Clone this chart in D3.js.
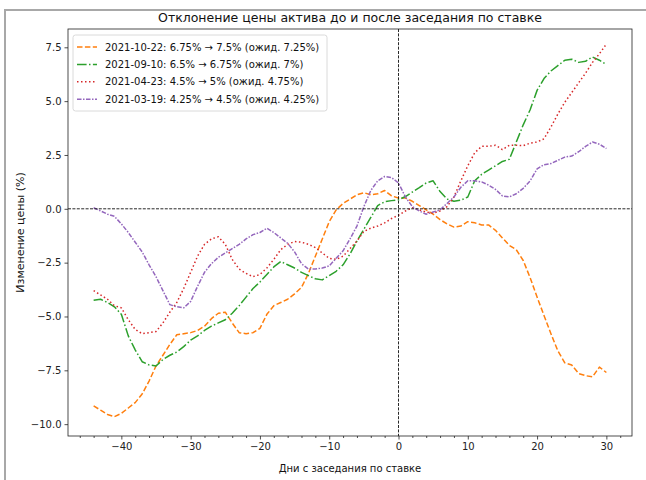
<!DOCTYPE html>
<html>
<head>
<meta charset="utf-8">
<script src="https://cdn.jsdelivr.net/npm/d3@7/dist/d3.min.js"></script>
<style>
  html, body { margin: 0; padding: 0; background: #fff; }
  svg { display: block; font-family: "DejaVu Sans", sans-serif; }
</style>
</head>
<body>
<svg id="chart" width="646" height="480"></svg>
<script>
// Days relative to the rate meeting
const days = d3.range(-44, 31);

// Price deviation (%) around each meeting
const oct22 = [-9.15, -9.35, -9.55, -9.65, -9.5, -9.25, -9.0, -8.6, -8.0, -7.3,
  -6.8, -6.3, -5.85, -5.8, -5.75, -5.65, -5.45, -5.1, -4.85, -4.8,
  -5.3, -5.75, -5.8, -5.75, -5.55, -4.9, -4.5, -4.35, -4.2, -3.95,
  -3.65, -3.0, -2.2, -1.4, -0.6, -0.05, 0.25, 0.45, 0.65, 0.75,
  0.65, 0.7, 0.85, 0.6, 0.5, 0.5, 0.35, 0.15, -0.05, -0.25,
  -0.5, -0.7, -0.85, -0.8, -0.6, -0.65, -0.75, -0.75, -1.0, -1.35,
  -1.7, -1.9, -2.4, -3.2, -4.1, -4.95, -5.8, -6.6, -7.15, -7.25,
  -7.65, -7.75, -7.8, -7.35, -7.6];
const sep10 = [-4.25, -4.2, -4.35, -4.55, -4.9, -5.9, -6.55, -7.1, -7.25, -7.3,
  -7.0, -6.8, -6.65, -6.4, -6.1, -5.9, -5.65, -5.45, -5.3, -5.15,
  -4.85, -4.5, -4.1, -3.7, -3.4, -3.05, -2.7, -2.45, -2.6, -2.75,
  -2.95, -3.1, -3.25, -3.3, -3.1, -2.9, -2.6, -2.1, -1.5, -0.95,
  -0.4, 0.15, 0.33, 0.38, 0.42, 0.57, 0.78, 0.98, 1.2, 1.3,
  0.8, 0.45, 0.35, 0.4, 0.55, 1.3, 1.6, 1.8, 2.0, 2.2,
  2.3, 3.1, 3.9, 4.6, 5.5, 6.05, 6.4, 6.65, 6.9, 6.95,
  6.8, 6.85, 7.05, 6.9, 6.7];
const apr23 = [-3.8, -4.0, -4.2, -4.5, -4.6, -5.15, -5.6, -5.8, -5.75, -5.7,
  -5.3, -4.8, -4.35, -3.7, -2.95, -2.2, -1.65, -1.4, -1.3, -1.65,
  -2.35, -2.8, -3.0, -3.15, -3.05, -2.75, -2.35, -1.9, -1.65, -1.52,
  -1.55, -1.65, -1.8, -2.05, -2.3, -2.35, -2.2, -1.85, -1.5, -1.05,
  -0.9, -0.8, -0.65, -0.45, -0.3, -0.1, 0.05, -0.05, -0.15, -0.2,
  -0.1, 0.1, 0.55, 1.3, 2.0, 2.6, 2.9, 2.9, 2.95, 2.75,
  2.95, 2.95, 2.93, 3.05, 3.1, 3.25, 3.8, 4.4, 4.95, 5.4,
  5.85, 6.3, 6.8, 7.2, 7.65];
const mar19 = [0.05, -0.1, -0.25, -0.35, -0.7, -1.1, -1.55, -2.0, -2.6, -3.15,
  -3.8, -4.45, -4.55, -4.6, -4.3, -3.6, -2.95, -2.55, -2.25, -2.05,
  -1.85, -1.65, -1.4, -1.2, -1.1, -0.9, -1.1, -1.35, -1.6, -2.0,
  -2.55, -2.8, -2.8, -2.75, -2.65, -2.3, -1.95, -1.4, -0.8, 0.1,
  0.85, 1.3, 1.5, 1.45, 1.2, 0.55, 0.1, -0.1, -0.25, -0.15,
  -0.05, 0.25, 0.55, 1.0, 1.3, 1.3, 1.25, 1.1, 0.9, 0.6,
  0.55, 0.7, 0.95, 1.3, 1.85, 2.05, 2.1, 2.25, 2.4, 2.45,
  2.65, 2.9, 3.1, 3.0, 2.8];

const seriesLabels = [
  "2021-10-22: 6.75% \u2192 7.5% (ожид. 7.25%)",
  "2021-09-10: 6.5% \u2192 6.75% (ожид. 7%)",
  "2021-04-23: 4.5% \u2192 5% (ожид. 4.75%)",
  "2021-03-19: 4.25% \u2192 4.5% (ожид. 4.25%)"
];
const seriesValues = [oct22, sep10, apr23, mar19];
const seriesColors = ["#ff7f0e", "#2ca02c", "#d62728", "#9467bd"];
const seriesDashes = ["5.5,2.4", "9.6,2.4,1.5,2.4", "1.5,2.5", "4.5,1.5,1.5,1.5"];

const xTicks = [-40, -30, -20, -10, 0, 10, 20, 30];
const xMinorTicks = d3.range(-46, 34, 2).filter(d => d % 10 !== 0);
const yTicks = [-10, -7.5, -5, -2.5, 0, 2.5, 5, 7.5];

const titleText = "Отклонение цены актива до и после заседания по ставке";
const xLabel = "Дни с заседания по ставке";
const yLabel = "Изменение цены (%)";

const svg = d3.select("#chart");
const W = 646, H = 480;
const plot = { left: 68, right: 632, top: 29, bottom: 436 };

// Outer frame (top and left edges)
svg.append("line").attr("x1", 4).attr("x2", W).attr("y1", 10).attr("y2", 10)
  .attr("stroke", "#a8a8a8").attr("stroke-width", 2);
svg.append("line").attr("x1", 5).attr("x2", 5).attr("y1", 9).attr("y2", H)
  .attr("stroke", "#a8a8a8").attr("stroke-width", 2);

const x = d3.scaleLinear().domain([-47.7, 33.7]).range([plot.left, plot.right]);
const y = d3.scaleLinear().domain([-10.55, 8.35]).range([plot.bottom, plot.top]);

svg.append("defs").append("clipPath").attr("id", "plotclip")
  .append("rect").attr("x", plot.left).attr("y", plot.top)
  .attr("width", plot.right - plot.left).attr("height", plot.bottom - plot.top);

// Series lines
const line = d3.line().x((d, i) => x(days[i])).y(d => y(d));
const linesG = svg.append("g").attr("clip-path", "url(#plotclip)");
seriesValues.forEach((vals, k) => {
  linesG.append("path")
    .datum(vals)
    .attr("d", line)
    .attr("fill", "none")
    .attr("stroke", seriesColors[k])
    .attr("stroke-width", 1.5)
    .attr("stroke-dasharray", seriesDashes[k])
    .attr("stroke-linejoin", "round");
});

// Reference lines at zero
linesG.append("line")
  .attr("x1", plot.left).attr("x2", plot.right)
  .attr("y1", y(0)).attr("y2", y(0))
  .attr("stroke", "#111").attr("stroke-width", 0.9).attr("stroke-dasharray", "3,1.4");
linesG.append("line")
  .attr("x1", x(0)).attr("x2", x(0))
  .attr("y1", plot.top).attr("y2", plot.bottom)
  .attr("stroke", "#111").attr("stroke-width", 0.9).attr("stroke-dasharray", "3,1.4");

// Axes
const fmtY = d => (d < 0 ? "\u2212" : "") + Math.abs(d).toFixed(1);
const fmtX = d => (d < 0 ? "\u2212" : "") + Math.abs(d);

const xAxis = svg.append("g").attr("transform", `translate(0,${plot.bottom})`)
  .call(d3.axisBottom(x).tickValues(xTicks).tickFormat(fmtX).tickSize(3.5).tickPadding(3));
const xMinor = svg.append("g").attr("transform", `translate(0,${plot.bottom})`)
  .call(d3.axisBottom(x).tickValues(xMinorTicks).tickFormat("").tickSize(2));
const yAxis = svg.append("g").attr("transform", `translate(${plot.left},0)`)
  .call(d3.axisLeft(y).tickValues(yTicks).tickFormat(fmtY).tickSize(3.5).tickPadding(3));

[xAxis, xMinor, yAxis].forEach(g => {
  g.select(".domain").remove();
  g.selectAll("line").attr("stroke", "#222").attr("stroke-width", 0.8);
  g.selectAll("text").attr("fill", "#222").style("font-size", "10px")
    .style("font-family", "DejaVu Sans, sans-serif");
});

// Spines
svg.append("rect")
  .attr("x", plot.left).attr("y", plot.top)
  .attr("width", plot.right - plot.left).attr("height", plot.bottom - plot.top)
  .attr("fill", "none").attr("stroke", "#222").attr("stroke-width", 0.8);

// Title and axis labels
svg.append("text").attr("x", (plot.left + plot.right) / 2).attr("y", 22)
  .attr("text-anchor", "middle").style("font-size", "12.5px").attr("fill", "#111")
  .text(titleText);
svg.append("text").attr("x", (plot.left + plot.right) / 2).attr("y", 472)
  .attr("text-anchor", "middle").style("font-size", "10px").attr("fill", "#111")
  .text(xLabel);
svg.append("text")
  .attr("transform", `translate(24,${(plot.top + plot.bottom) / 2}) rotate(-90)`)
  .attr("text-anchor", "middle").style("font-size", "11px").attr("fill", "#111")
  .text(yLabel);

// Legend
const legend = svg.append("g");
legend.append("rect")
  .attr("x", 73).attr("y", 35).attr("width", 254).attr("height", 76)
  .attr("rx", 2.5).attr("fill", "#fff").attr("fill-opacity", 0.85)
  .attr("stroke", "#d0d0d0").attr("stroke-width", 0.8);
seriesLabels.forEach((lab, k) => {
  const ry = 47 + k * 17.4;
  legend.append("line")
    .attr("x1", 77).attr("x2", 97).attr("y1", ry).attr("y2", ry)
    .attr("stroke", seriesColors[k]).attr("stroke-width", 1.5)
    .attr("stroke-dasharray", seriesDashes[k]);
  legend.append("text")
    .attr("x", 105).attr("y", ry + 3.6)
    .style("font-size", "10px").attr("fill", "#111")
    .text(lab);
});
</script>
</body>
</html>
